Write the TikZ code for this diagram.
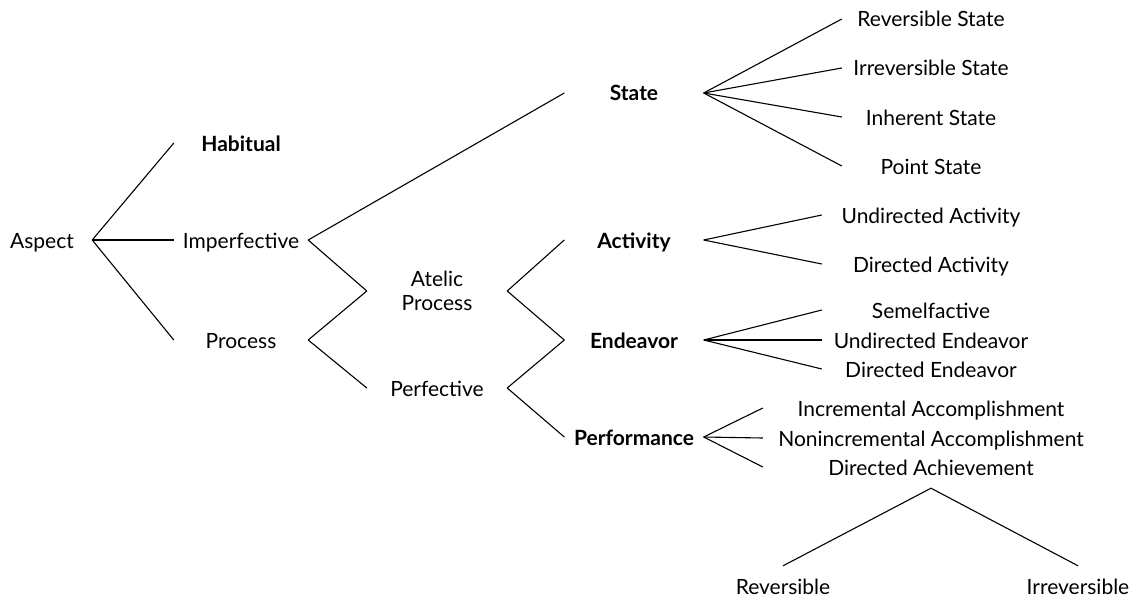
\documentclass[tikz,border=0pt]{standalone}
\usepackage{fontspec}
\setmainfont{Lato}

\begin{document}
\begin{tikzpicture}[x=1pt,y=-1pt,
            every node/.style={inner sep=0pt,text height=19pt,text depth=3pt,font=\fontsize{21}{24}\selectfont},
            lvl/.style={minimum width=#1},
            head/.style={font=\fontsize{21}{24}\selectfont\bfseries},
            branch/.style={line width=1.1pt}]
            \useasboundingbox (0,0) rectangle (1139,599);

            \node[lvl=100] (aspect) at (42,240) {Aspect};

            \node[lvl=134,head] (habitual) at (241,143) {Habitual};
            \node[lvl=134] (imperf) at (241,240) {Imperfective};
            \node[lvl=134] (process) at (241,340) {Process};

            \node[lvl=140,align=center,text height={},text depth={}] (atelic) at (437,291) {Atelic\\Process};
            \node[lvl=140] (perf) at (437,388) {Perfective};

            \node[lvl=139,head] (state) at (634,93) {State};
            \node[lvl=139,head] (activity) at (634,240) {Activity};
            \node[lvl=139,head] (endeavor) at (634,340) {Endeavor};
            \node[lvl=139,head] (perform) at (634,437) {Performance};

            \node[lvl=178] (revst) at (931,19) {Reversible State};
            \node[lvl=178] (irrevst) at (931,68) {Irreversible State};
            \node[lvl=178] (inhst) at (931,117) {Inherent State};
            \node[lvl=178] (pointst) at (931,166) {Point State};

            \node[lvl=218] (undact) at (931,215) {Undirected Activity};
            \node[lvl=218] (diract) at (931,264) {Directed Activity};

            \node[lvl=218] (semel) at (931,310) {Semelfactive};
            \node[lvl=218] (undend) at (931,340) {Undirected Endeavor};
            \node[lvl=218] (dirend) at (931,369) {Directed Endeavor};

            \node[lvl=336] (incacc) at (931,408) {Incremental Accomplishment};
            \node[lvl=336] (nonacc) at (931,438) {Nonincremental Accomplishment};
            \node[lvl=336] (dirach) at (931,467) {Directed Achievement};

            \node (revers) at (783,586) {Reversible};
            \node (irrevers) at (1078,586) {Irreversible};

            \coordinate (split) at ([yshift=-10pt]dirach.south);
            \coordinate (revers-top) at ([yshift=9pt]revers.north);
            \coordinate (irrevers-top) at ([yshift=9pt]irrevers.north);

            \draw[branch] (aspect.east) -- (habitual.west);
            \draw[branch] (aspect.east) -- (imperf.west);
            \draw[branch] (aspect.east) -- (process.west);

            \draw[branch] (imperf.east) -- (state.west);
            \draw[branch] (imperf.east) -- (atelic.west);
            \draw[branch] (process.east) -- (atelic.west);
            \draw[branch] (process.east) -- (perf.west);

            \draw[branch] (atelic.east) -- (activity.west);
            \draw[branch] (atelic.east) -- (endeavor.west);
            \draw[branch] (perf.east) -- (endeavor.west);
            \draw[branch] (perf.east) -- (perform.west);

            \draw[branch] (state.east) -- (revst.west);
            \draw[branch] (state.east) -- (irrevst.west);
            \draw[branch] (state.east) -- (inhst.west);
            \draw[branch] (state.east) -- (pointst.west);

            \draw[branch] (activity.east) -- (undact.west);
            \draw[branch] (activity.east) -- (diract.west);

            \draw[branch] (endeavor.east) -- (semel.west);
            \draw[branch] (endeavor.east) -- (undend.west);
            \draw[branch] (endeavor.east) -- (dirend.west);

            \draw[branch] (perform.east) -- (incacc.west);
            \draw[branch] (perform.east) -- (nonacc.west);
            \draw[branch] (perform.east) -- (dirach.west);

            \draw[branch] (revers-top) -- (split) -- (irrevers-top);
\end{tikzpicture}
\end{document}
